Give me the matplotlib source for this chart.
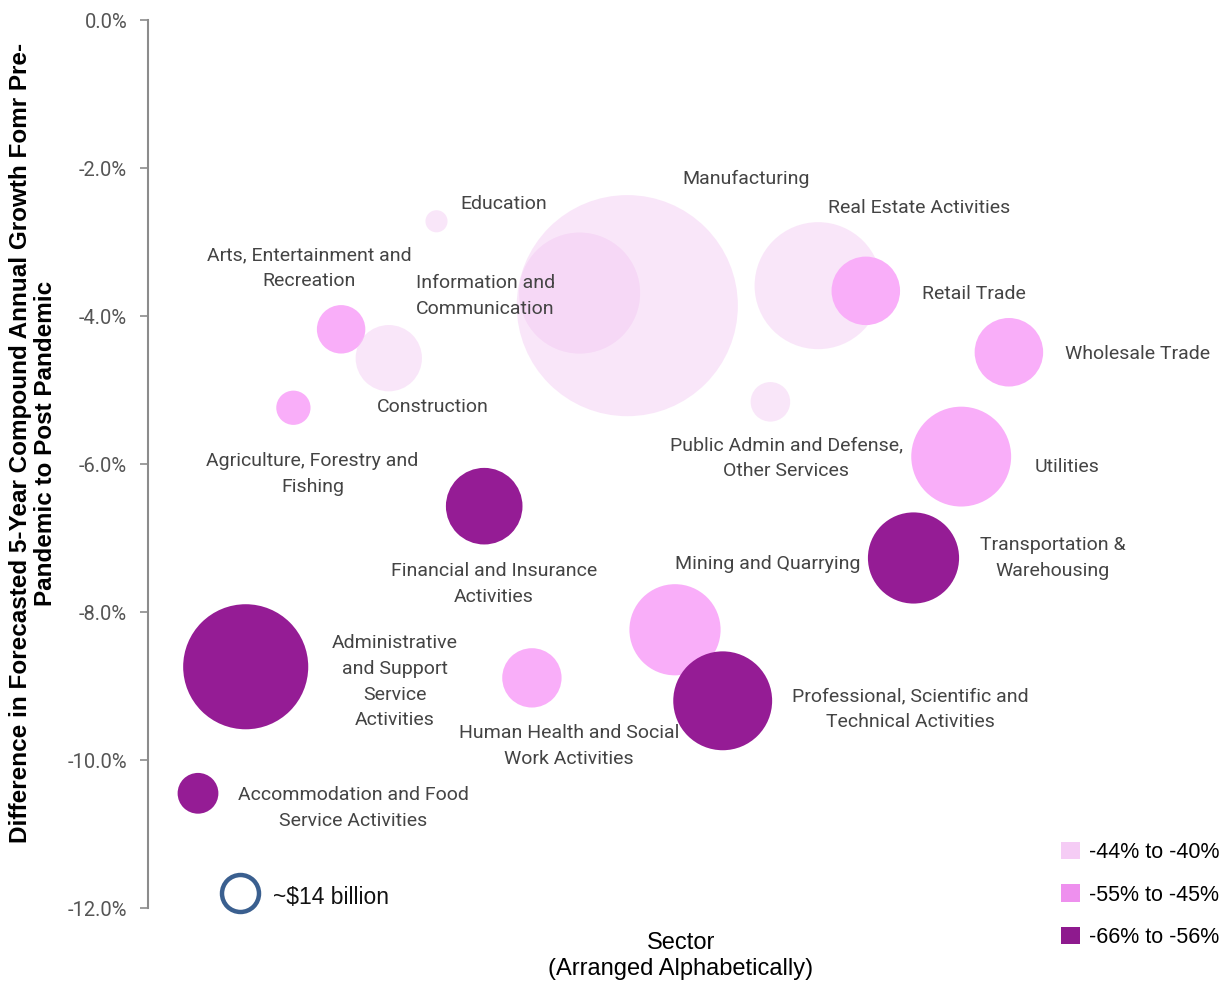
import matplotlib
matplotlib.use("Agg")
import matplotlib.pyplot as plt
import numpy as np
from matplotlib.patches import Patch

# ---------------- data ----------------
sectors = [
    "Accommodation and Food\nService Activities",
    "Administrative\nand Support\nService\nActivities",
    "Agriculture, Forestry and\nFishing",
    "Arts, Entertainment and\nRecreation",
    "Construction",
    "Education",
    "Financial and Insurance\nActivities",
    "Human Health and Social\nWork Activities",
    "Information and\nCommunication",
    "Manufacturing",
    "Mining and Quarrying",
    "Professional, Scientific and\nTechnical Activities",
    "Public Admin and Defense,\nOther Services",
    "Real Estate Activities",
    "Retail Trade",
    "Transportation &\nWarehousing",
    "Utilities",
    "Wholesale Trade",
]
growth_diff = [-10.45, -8.74, -5.24, -4.18, -4.57, -2.72, -6.57, -8.89, -3.69,
               -3.86, -8.24, -9.20, -5.16, -3.59, -3.66, -7.27, -5.90, -4.49]
size_bn = [17, 160, 12, 24, 45, 5, 60, 36, 150,
           500, 85, 100, 16, 165, 48, 85, 102, 48]
group = [2, 2, 1, 1, 0, 0, 2, 1, 0,
         0, 1, 2, 0, 0, 1, 2, 1, 1]
legend_labels = ["-44% to -40%", "-55% to -45%", "-66% to -56%"]
ref_size_bn = 14
ref_label = "~$14 billion"
yticks = [0, -2, -4, -6, -8, -10, -12]

# ---------------- style ----------------
DPI = 100
bubble_colors = ["#F3C8F3", "#F9AEF9", "#951C95"]
bubble_alpha = [0.45, 1.0, 1.0]
legend_colors = ["#F5CCF5", "#EE90EE", "#8E1A8E"]
px_per_bn = 18.5 / np.sqrt(ref_size_bn)   # radius px for sqrt(size)

# label offsets in px (dx right, dy up) from bubble centre
label_off = [(155, -15), (149, -15), (19, -66), (-32, 61), (44, -49), (67, 17),
             (10, -78), (37, -68), (-94, -3), (119, 127), (93, 66), (188, -8),
             (16, -56), (101, 78), (108, -3), (139, 0), (106, -10), (129, -2)]
label_font = "Roboto"
label_color = "#444444"

fig = plt.figure(figsize=(12.22, 9.85), dpi=DPI)
ax = fig.add_axes([148 / 1222, 1 - 908 / 985, (1222 - 148) / 1222, 888 / 985])

x = np.arange(1, len(sectors) + 1)
step = 47.7
ax.set_xlim(1 - 50 / step, 1 + (1222 - 198) / step)
ax.set_ylim(-12, 0)

def r_to_s(r_px):
    d_pt = 2 * r_px * 72 / DPI
    return d_pt ** 2

for i in range(len(sectors)):
    g = group[i]
    r = px_per_bn * np.sqrt(size_bn[i])
    ax.scatter([x[i]], [growth_diff[i]], s=r_to_s(r), color=bubble_colors[g],
               alpha=bubble_alpha[g], edgecolors="none", zorder=2 + i * 0.01,
               clip_on=False)
    dx, dy = label_off[i]
    ax.annotate(sectors[i], (x[i], growth_diff[i]),
                xytext=(dx * 72 / DPI, dy * 72 / DPI), textcoords="offset points",
                ha="center", va="center", fontsize=14, color=label_color,
                family=label_font, fontweight="normal", linespacing=1.55,
                zorder=5)

# reference bubble
ref_r = px_per_bn * np.sqrt(ref_size_bn)
ax.scatter([1 + (240 - 198) / step], [-(893 - 20) / 74], s=r_to_s(ref_r),
           facecolors="white", edgecolors="#3A5F8F", linewidths=3.2,
           clip_on=False, zorder=6)
ax.text(1 + (273 - 198) / step, -(898 - 20) / 74, ref_label, ha="left",
        va="center", fontsize=16.5, family="Liberation Sans", color="#111111")

# axes styling
for sp in ["top", "right", "bottom"]:
    ax.spines[sp].set_visible(False)
ax.spines["left"].set_color("#8C8C8C")
ax.spines["left"].set_linewidth(1.5)
ax.set_xticks([])
ax.set_yticks(yticks)
ax.set_yticklabels([f"{v:.1f}%" for v in yticks], family=label_font,
                   fontweight="normal", fontsize=14.5, color="#555555")
ax.tick_params(axis="y", direction="out", length=6, width=1.2, color="#8C8C8C",
               pad=9)

fig.text(33 / 1222, 1 - 443 / 985,
         "Difference in Forecasted 5-Year Compound Annual Growth Fomr Pre-\nPandemic to Post Pandemic",
         rotation=90, ha="center", va="center", fontsize=17.5, fontweight="bold",
         family="Liberation Sans", linespacing=1.1)
fig.text(681 / 1222, 1 - 956 / 985, "Sector\n(Arranged Alphabetically)",
         ha="center", va="center", fontsize=17, family="Liberation Sans",
         linespacing=1.2)

handles = [Patch(facecolor=c, edgecolor="none") for c in legend_colors]
fig.legend(handles, legend_labels, loc="center left",
           bbox_to_anchor=(1042 / 1222, 1 - 895 / 985), frameon=False,
           prop={"family": "Liberation Sans", "size": 15.5}, handlelength=0.85,
           handleheight=0.85, labelspacing=1.0, handletextpad=0.45)

fig.savefig("out.png", dpi=DPI)
